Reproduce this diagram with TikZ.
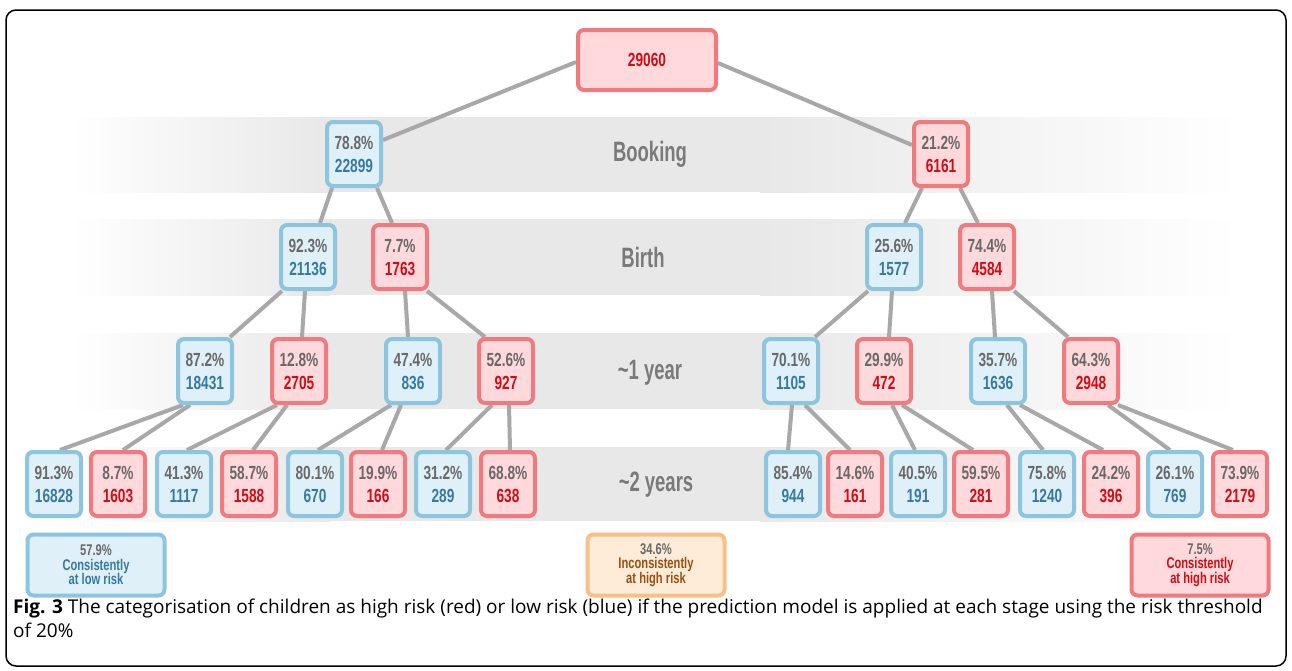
\documentclass[tikz,border=0pt]{standalone}
\usepackage{fontspec}
\usepackage{graphicx}
\setmainfont{Open Sans}
\newfontfamily\lib{Liberation Sans}
\definecolor{bandgray}{RGB}{232,232,232}
\definecolor{edgegray}{RGB}{168,168,168}
\definecolor{pctgray}{RGB}{105,105,105}
\definecolor{lblgray}{RGB}{122,122,122}
\definecolor{bborder}{RGB}{142,197,222}
\definecolor{bfill}{RGB}{223,240,249}
\definecolor{btext}{RGB}{55,122,160}
\definecolor{rborder}{RGB}{240,122,126}
\definecolor{rfill}{RGB}{255,217,219}
\definecolor{rtext}{RGB}{205,14,24}
\definecolor{oborder}{RGB}{247,192,135}
\definecolor{ofill}{RGB}{255,236,216}
\definecolor{otext}{RGB}{150,80,20}
\pgfdeclarelayer{back}
\pgfdeclarelayer{mid}
\pgfsetlayers{back,mid,main}
\tikzset{
  base/.style={rounded corners=6pt, line width=4pt, minimum width=54pt, minimum height=64pt,
    inner sep=0pt, align=center, font=\lib\bfseries\fontsize{19}{23}\selectfont},
  bnode/.style={base, draw=bborder, fill=bfill, text=btext},
  rnode/.style={base, draw=rborder, fill=rfill, text=rtext},
  sumbox/.style={rounded corners=6pt, line width=4pt, minimum width=137pt, minimum height=61pt,
    inner sep=0pt, align=center, font=\lib\bfseries\fontsize{15.5}{14.5}\selectfont},
  stage/.style={text=lblgray, font=\lib\bfseries\fontsize{28}{30}\selectfont, inner sep=0pt},
  edge/.style={draw=edgegray, line width=4pt},
}
\newcommand\cnd[1]{\scalebox{0.72}[1]{#1}}
\newcommand\pct[1]{\textcolor{pctgray}{#1}}
\newcommand\nd[2]{\cnd{\pct{#1}}\\\cnd{#2}}
\newcommand\sm[3]{\cnd{\pct{#1}}\\\cnd{#2}\\\cnd{#3}}
\newcommand\stg[1]{\scalebox{0.66}[1]{#1}}
\newcommand\myband[2]{%
  \shade[left color=white, right color=bandgray, draw=none] (70,#1) rectangle (330,#2);
  \fill[bandgray] (329.5,#1) rectangle (760.5,#2);
  \shade[left color=bandgray, right color=white, draw=none] (760,#1) rectangle (1240,#2);}
\begin{document}
\begin{tikzpicture}[x=1pt,y=-1pt]
\useasboundingbox (0,0) rectangle (1292,670);
\begin{pgfonlayer}{back}
\fill[white] (0,0) rectangle (1292,670);
\myband{117}{192}
\myband{219}{295}
\myband{333}{409}
\myband{447}{521}
\end{pgfonlayer}
\draw[line width=1.5pt, rounded corners=10pt] (6,10) rectangle (1286,666);

% root
\node[rnode, minimum width=138pt, minimum height=60pt] (root) at (647,60) {\cnd{29060}};
% booking
\node[bnode] (b1) at (354,154) {\nd{78.8\%}{22899}};
\node[rnode] (b2) at (941,154) {\nd{21.2\%}{6161}};
% birth
\node[bnode] (c1) at (308,257) {\nd{92.3\%}{21136}};
\node[rnode] (c2) at (400,257) {\nd{7.7\%}{1763}};
\node[bnode] (c3) at (894,257) {\nd{25.6\%}{1577}};
\node[rnode] (c4) at (987,257) {\nd{74.4\%}{4584}};
% 1 year
\node[bnode] (d1) at (205,371) {\nd{87.2\%}{18431}};
\node[rnode] (d2) at (299,371) {\nd{12.8\%}{2705}};
\node[bnode] (d3) at (413,371) {\nd{47.4\%}{836}};
\node[rnode] (d4) at (506,371) {\nd{52.6\%}{927}};
\node[bnode] (d5) at (791,371) {\nd{70.1\%}{1105}};
\node[rnode] (d6) at (884,371) {\nd{29.9\%}{472}};
\node[bnode] (d7) at (998,371) {\nd{35.7\%}{1636}};
\node[rnode] (d8) at (1091,371) {\nd{64.3\%}{2948}};
% 2 years
\node[bnode] (e1) at (54,484) {\nd{91.3\%}{16828}};
\node[rnode] (e2) at (118,484) {\nd{8.7\%}{1603}};
\node[bnode] (e3) at (184,484) {\nd{41.3\%}{1117}};
\node[rnode] (e4) at (249,484) {\nd{58.7\%}{1588}};
\node[bnode] (e5) at (315,484) {\nd{80.1\%}{670}};
\node[rnode] (e6) at (378,484) {\nd{19.9\%}{166}};
\node[bnode] (e7) at (443,484) {\nd{31.2\%}{289}};
\node[rnode] (e8) at (508,484) {\nd{68.8\%}{638}};
\node[bnode] (e9) at (793,484) {\nd{85.4\%}{944}};
\node[rnode] (e10) at (855,484) {\nd{14.6\%}{161}};
\node[bnode] (e11) at (918,484) {\nd{40.5\%}{191}};
\node[rnode] (e12) at (981,484) {\nd{59.5\%}{281}};
\node[bnode] (e13) at (1047,484) {\nd{75.8\%}{1240}};
\node[rnode] (e14) at (1111,484) {\nd{24.2\%}{396}};
\node[bnode] (e15) at (1175,484) {\nd{26.1\%}{769}};
\node[rnode] (e16) at (1240,484) {\nd{73.9\%}{2179}};

% stage labels
\node[stage] (lb) at (650,154) {\stg{Booking}};
\node[stage] (lbi) at (643,257) {\stg{Birth}};
\node[stage] (l1) at (650,373) {\stg{\textasciitilde1 year}};
\node[stage] (l2) at (656,485) {\stg{\textasciitilde2 years}};

% summary boxes
\node[sumbox, draw=bborder, fill=bfill, text=btext] (s1) at (96,565) {\sm{57.9\%}{Consistently}{at low risk}};
\node[sumbox, draw=oborder, fill=ofill, text=otext] (s2) at (656,565) {\sm{34.6\%}{Inconsistently}{at high risk}};
\node[sumbox, draw=rborder, fill=rfill, text=rtext] (s3) at (1200,565) {\sm{7.5\%}{Consistently}{at high risk}};

% edges
\begin{pgfonlayer}{mid}
\draw[edge] ([yshift=-2pt]root.west) -- ([yshift=14pt]b1.east);
\draw[edge] ([yshift=-3pt]root.east) -- ([yshift=9pt]b2.west);
\draw[edge] ([xshift=-22pt]b1.south) -- ([xshift=12pt]c1.north);
\draw[edge] ([xshift=23pt]b1.south) -- ([xshift=-8pt]c2.north);
\draw[edge] ([xshift=-19pt]b2.south) -- ([xshift=11pt]c3.north);
\draw[edge] ([xshift=19pt]b2.south) -- ([xshift=-9pt]c4.north);
\draw[edge] ([xshift=-26pt]c1.south) -- ([xshift=25pt]d1.north);
\draw[edge] ([xshift=-3pt]c1.south) -- ([xshift=3pt]d2.north);
\draw[edge] ([xshift=5pt]c2.south) -- ([xshift=-5pt]d3.north);
\draw[edge] ([xshift=27pt]c2.south) -- ([xshift=-21pt]d4.north);
\draw[edge] ([xshift=-26pt]c3.south) -- ([xshift=24pt]d5.north);
\draw[edge] ([xshift=-2pt]c3.south) -- ([xshift=5pt]d6.north);
\draw[edge] ([xshift=5pt]c4.south) -- ([xshift=-3pt]d7.north);
\draw[edge] ([xshift=27pt]c4.south) -- ([xshift=-23pt]d8.north);
\draw[edge] ([xshift=-22pt]d1.south) -- ([xshift=6pt]e1.north);
\draw[edge] ([xshift=-15pt]d1.south) -- ([xshift=5pt]e2.north);
\draw[edge] ([xshift=-22pt]d2.south) -- ([xshift=3pt]e3.north);
\draw[edge] ([xshift=-12pt]d2.south) -- ([xshift=4pt]e4.north);
\draw[edge] ([xshift=-22pt]d3.south) -- ([xshift=3pt]e5.north);
\draw[edge] ([xshift=-12pt]d3.south) -- ([xshift=4pt]e6.north);
\draw[edge] ([xshift=-14pt]d4.south) -- ([xshift=3pt]e7.north);
\draw[edge] ([xshift=3pt]d4.south) -- ([xshift=2pt]e8.north);
\draw[edge] ([xshift=1pt]d5.south) -- ([xshift=-5pt]e9.north);
\draw[edge] ([xshift=14pt]d5.south) -- ([xshift=-5pt]e10.north);
\draw[edge] ([xshift=8pt]d6.south) -- ([xshift=-3pt]e11.north);
\draw[edge] ([xshift=18pt]d6.south) -- ([xshift=-8pt]e12.north);
\draw[edge] ([xshift=9pt]d7.south) -- ([xshift=-4pt]e13.north);
\draw[edge] ([xshift=22pt]d7.south) -- ([xshift=-8pt]e14.north);
\draw[edge] ([xshift=17pt]d8.south) -- ([xshift=-5pt]e15.north);
\draw[edge] ([xshift=27pt]d8.south) -- ([xshift=-7pt]e16.north);
\end{pgfonlayer}

% caption
\node[anchor=base west, inner sep=0pt, font=\fontsize{19}{22}\selectfont] (cap1) at (13,613)
  {\textbf{Fig. 3} The categorisation of children as high risk (red) or low risk (blue) if the prediction model is applied at each stage using the risk threshold};
\node[anchor=base west, inner sep=0pt, font=\fontsize{19}{22}\selectfont] (cap2) at (13,637) {of 20\%};
\end{tikzpicture}
\end{document}
